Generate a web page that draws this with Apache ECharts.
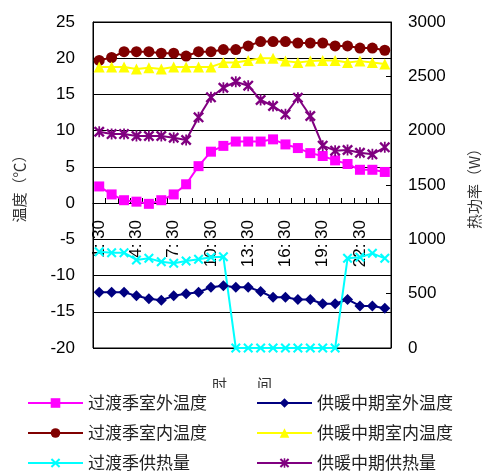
<!DOCTYPE html>
<html lang="zh">
<head>
<meta charset="UTF-8">
<title>温度与热功率</title>
<style>
  html, body { margin: 0; padding: 0; background: #fff; }
  #main { width: 484px; height: 474px; }
</style>
</head>
<body>
<div id="main"></div>
<script src="https://cdn.jsdelivr.net/npm/echarts@6.0.0/dist/echarts.min.js"></script>
<script>
var times = ['1: 30', '2: 30', '3: 30', '4: 30', '5: 30', '6: 30', '7: 30', '8: 30',
  '9: 30', '10: 30', '11: 30', '12: 30', '13: 30', '14: 30', '15: 30', '16: 30',
  '17: 30', '18: 30', '19: 30', '20: 30', '21: 30', '22: 30', '23: 30', '0: 30'];

// 温度 (℃), 左轴
var transOutTemp = [2.3, 1.2, 0.4, 0.2, -0.1, 0.4, 1.2, 2.6, 5.1, 7.1, 7.9, 8.5,
  8.5, 8.5, 8.8, 8.1, 7.6, 6.9, 6.5, 5.9, 5.4, 4.6, 4.6, 4.3];
var transInTemp = [19.7, 20.1, 20.9, 20.9, 20.9, 20.7, 20.7, 20.3, 20.9, 20.9, 21.2, 21.2,
  21.7, 22.3, 22.3, 22.3, 22.1, 22.1, 22.1, 21.7, 21.7, 21.4, 21.4, 21.1];
var midOutTemp = [-12.3, -12.3, -12.3, -12.8, -13.2, -13.4, -12.8, -12.5, -12.3, -11.6, -11.4, -11.6,
  -11.6, -12.2, -13.0, -13.0, -13.3, -13.3, -13.9, -13.9, -13.3, -14.2, -14.2, -14.5];
var midInTemp = [18.8, 18.8, 18.8, 18.5, 18.7, 18.5, 18.8, 18.8, 18.8, 18.8, 19.4, 19.4,
  19.7, 20.0, 20.0, 19.6, 19.4, 19.6, 19.7, 19.7, 19.4, 19.6, 19.4, 19.2];

// 热功率 (W), 右轴
var transHeat = [886, 877, 877, 810, 825, 794, 779, 801, 816, 835, 840, 0,
  0, 0, 0, 0, 0, 0, 0, 0, 825, 835, 871, 825];
var midHeat = [1990, 1969, 1969, 1951, 1951, 1951, 1935, 1914, 2123, 2307, 2395, 2450,
  2414, 2282, 2227, 2150, 2303, 2135, 1862, 1816, 1822, 1797, 1782, 1847];

var crossSymbol = 'path://M0,1.5L1.5,0L5,3.5L8.5,0L10,1.5L6.5,5L10,8.5L8.5,10L5,6.5L1.5,10L0,8.5L3.5,5Z';
var starSymbol = 'path://M0,1.5L1.5,0L5,3.5L8.5,0L10,1.5L6.5,5L10,8.5L8.5,10L5,6.5L1.5,10L0,8.5L3.5,5Z' +
  'M4.2,0L5.8,0L5.8,10L4.2,10Z';

var font = "'Liberation Sans', 'Noto Sans CJK SC', sans-serif";
var cjk = "'Noto Sans CJK SC', sans-serif";

function line(name, data, color, symbol, size, axis) {
  return {
    name: name,
    type: 'line',
    yAxisIndex: axis,
    data: data,
    symbol: symbol,
    symbolSize: size,
    showAllSymbol: true,
    lineStyle: { color: color, width: 2 },
    itemStyle: { color: color }
  };
}

var myChart = echarts.init(document.getElementById('main'));

var option = {
  animation: false,
  textStyle: { fontFamily: font },
  grid: {
    left: 93, right: 93, top: 22, bottom: 126,
    outerBoundsMode: 'none',
    containLabel: false,
    show: true, borderColor: '#000', borderWidth: 1
  },
  legend: [{
    data: ['过渡季室外温度', '过渡季室内温度', '过渡季供热量'],
    orient: 'vertical',
    left: 22, top: 388,
    itemWidth: 55, itemHeight: 12, itemGap: 12,
    padding: [6, 30, 2, 5],
    backgroundColor: '#fff',
    textStyle: { fontFamily: cjk, fontSize: 17, lineHeight: 18, color: '#222' }
  }, {
    data: ['供暖中期室外温度', '供暖中期室内温度', '供暖中期供热量'],
    orient: 'vertical',
    left: 251, top: 388,
    itemWidth: 55, itemHeight: 12, itemGap: 12,
    padding: [6, 10, 2, 5],
    backgroundColor: '#fff',
    textStyle: { fontFamily: cjk, fontSize: 17, lineHeight: 18, color: '#222' }
  }],
  xAxis: {
    type: 'category',
    data: times,
    offset: -145,
    name: '时　　间',
    nameLocation: 'middle',
    nameGap: 174,
    nameTextStyle: { fontFamily: cjk, fontSize: 15, color: '#333' },
    axisLine: { onZero: false, lineStyle: { color: '#000', width: 1 } },
    axisTick: { show: true, inside: true, length: 5, interval: 0, lineStyle: { color: '#000' } },
    axisLabel: { interval: 2, rotate: 90, margin: 17, fontSize: 17, color: '#000' },
    splitLine: { show: false }
  },
  yAxis: [{
    type: 'value',
    min: -20, max: 25, interval: 5,
    name: '温度（℃）',
    nameLocation: 'middle',
    nameRotate: 90,
    nameGap: 66,
    nameTextStyle: { fontFamily: cjk, fontSize: 15, color: '#333' },
    axisLine: { show: true, lineStyle: { color: '#000' } },
    axisTick: { show: false },
    axisLabel: { margin: 18, fontSize: 17, color: '#000' },
    splitLine: { show: true, lineStyle: { color: '#000', width: 1 } }
  }, {
    type: 'value',
    min: 0, max: 3000, interval: 500,
    name: '热功率（W）',
    nameLocation: 'middle',
    nameRotate: 90,
    nameGap: 76,
    nameTextStyle: { fontFamily: cjk, fontSize: 15, color: '#333' },
    axisLine: { show: true, lineStyle: { color: '#000' } },
    axisTick: { show: true, inside: true, length: 5, lineStyle: { color: '#000' } },
    axisLabel: {
      margin: 17, fontSize: 17, color: '#000',
      formatter: function (v) { return String(v); }
    },
    splitLine: { show: false }
  }],
  series: [
    line('过渡季室外温度', transOutTemp, '#FF00FF', 'rect', 10, 0),
    line('供暖中期室外温度', midOutTemp, '#000080', 'diamond', 11, 0),
    line('过渡季室内温度', transInTemp, '#800000', 'circle', 11, 0),
    line('供暖中期室内温度', midInTemp, '#FFFF00', 'triangle', 11, 0),
    line('过渡季供热量', transHeat, '#00FFFF', crossSymbol, 10, 1),
    line('供暖中期供热量', midHeat, '#800080', starSymbol, 11, 1)
  ]
};

myChart.setOption(option);
</script>
</body>
</html>
